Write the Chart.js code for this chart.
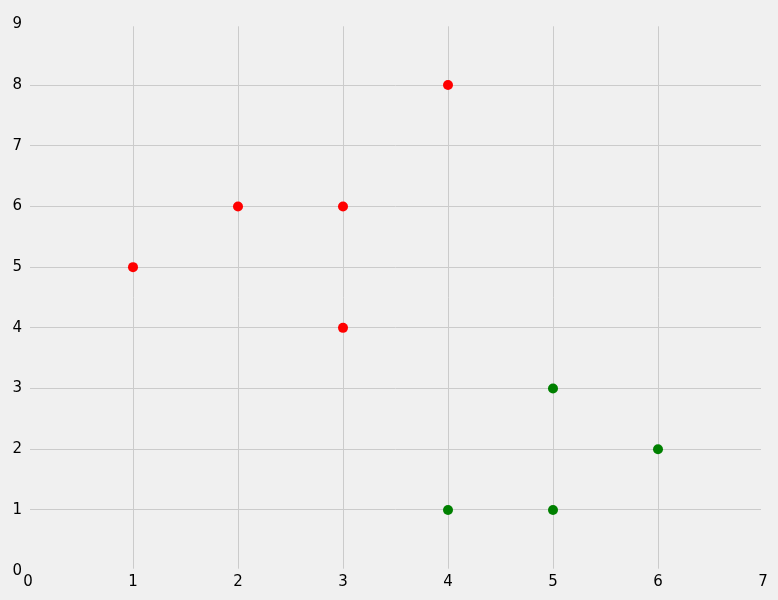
<!DOCTYPE html>
<html>
<head>
<meta charset="utf-8">
<script src="https://cdn.jsdelivr.net/npm/chart.js@4/dist/chart.umd.min.js"></script>
<style>
  html, body { margin: 0; padding: 0; background: #f0f0f0; }
  #wrap { width: 778px; height: 600px; }
</style>
</head>
<body>
<div id="wrap"><canvas id="c" width="778" height="600"></canvas></div>
<script>
// red group
const redX = [1, 2, 3, 3, 4];
const redY = [5, 6, 6, 4, 8];
// green group
const greenX = [4, 5, 5, 6];
const greenY = [1, 3, 1, 2];

const xTicks = [0, 1, 2, 3, 4, 5, 6, 7];
const yTicks = [0, 1, 2, 3, 4, 5, 6, 7, 8, 9];

const toPoints = (xs, ys) => xs.map((x, i) => ({ x, y: ys[i] }));

const tickFont = { family: 'DejaVu Sans', size: 15 };

// thick frame in background colour, hides grid ends like the 538 style spines
const frame = {
  id: 'frame',
  beforeDatasetsDraw(chart) {
    const { ctx, chartArea: a } = chart;
    ctx.save();
    ctx.strokeStyle = '#f0f0f0';
    ctx.lineWidth = 4;
    ctx.strokeRect(a.left, a.top, a.right - a.left, a.bottom - a.top);
    ctx.restore();
  },
};

new Chart(document.getElementById('c'), {
  type: 'scatter',
  data: {
    datasets: [
      { data: toPoints(redX, redY), backgroundColor: '#ff0000', borderWidth: 0, pointRadius: 5 },
      { data: toPoints(greenX, greenY), backgroundColor: '#008000', borderWidth: 0, pointRadius: 5 },
    ],
  },
  plugins: [frame],
  options: {
    responsive: false,
    animation: false,
    layout: { padding: { top: 24.3, right: 15, left: 0, bottom: 0 } },
    plugins: { legend: { display: false }, tooltip: { enabled: false } },
    scales: {
      x: {
        min: 0, max: 7,
        afterBuildTicks: s => { s.ticks = xTicks.map(v => ({ value: v })); },
        afterFit: s => { s.height = 29.3; },
        border: { display: false },
        grid: { color: '#cbcbcb', lineWidth: 1, drawTicks: false },
        ticks: { color: '#000', font: tickFont, padding: 2 },
      },
      y: {
        min: 0, max: 9,
        afterBuildTicks: s => { s.ticks = yTicks.map(v => ({ value: v })); },
        afterFit: s => { s.width = 28; },
        border: { display: false },
        grid: { color: '#cbcbcb', lineWidth: 1, drawTicks: false },
        ticks: { color: '#000', font: tickFont, padding: 6 },
      },
    },
  },
});
</script>
</body>
</html>
